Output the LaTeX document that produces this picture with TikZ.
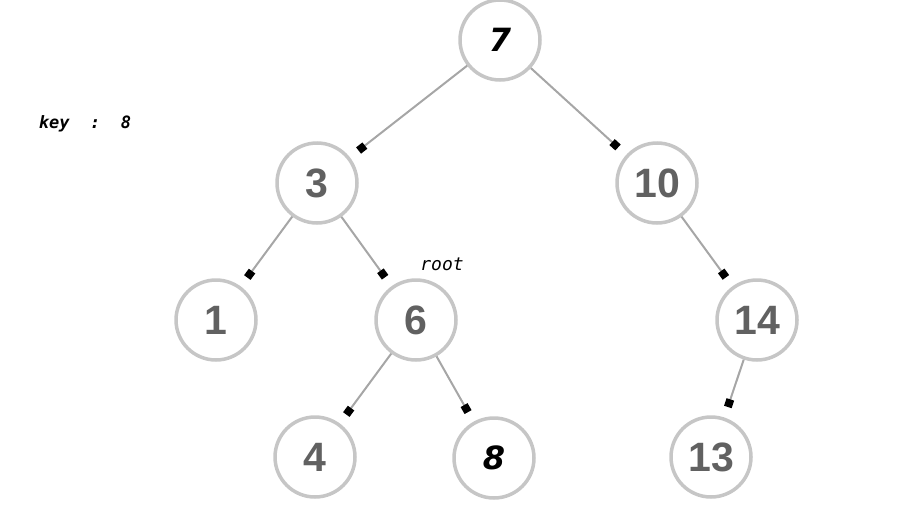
\documentclass[tikz,border=0pt]{standalone}
\usepackage{fontspec}
\setmainfont{Liberation Sans}
\newfontfamily\digitfont{Liberation Sans}
\newfontfamily\italdigit{DejaVu Sans}
\newfontfamily\monofont{DejaVu Sans Mono}
\usetikzlibrary{arrows.meta}
\begin{document}
\begin{tikzpicture}[x=1pt,y=-1pt,
  tnode/.style={circle,draw=gray!45,line width=3.5pt,fill=white,minimum size=80pt,inner sep=0pt,
    font=\digitfont\bfseries\fontsize{41}{41}\selectfont,text=black!62},
  knode/.style={tnode,font=\italdigit\bfseries\itshape\fontsize{32}{32}\selectfont,text=black},
  link/.style={draw=gray!70,line width=2pt,shorten >=11pt,-{Square[length=8pt,width=8pt,color=black]}}]
\useasboundingbox (0,0) rectangle (899,522);
\node[knode] (n7) at (500,40) {7};
\node[tnode] (n3) at (317,183) {3};
\node[tnode] (n10) at (657,183) {10};
\node[tnode] (n1) at (216,320) {1};
\node[tnode] (n6) at (416,320) {6};
\node[tnode] (n14) at (757,320) {14};
\node[tnode] (n4) at (315,457) {4};
\node[knode] (n8) at (494,458) {8};
\node[tnode] (n13) at (711,457) {13};
\draw[link] (n7) -- (n3);
\draw[link] (n7) -- (n10);
\draw[link] (n3) -- (n1);
\draw[link] (n3) -- (n6);
\draw[link] (n10) -- (n14);
\draw[link] (n6) -- (n4);
\draw[link] (n6) -- (n8);
\draw[link] (n14) -- (n13);
\node[font=\monofont\bfseries\itshape\fontsize{17}{17}\selectfont] (key) at (85,124) {key\ \ :\ \ 8};
\node[font=\monofont\itshape\fontsize{18}{18}\selectfont] (root) at (442,264) {root};
\end{tikzpicture}
\end{document}
